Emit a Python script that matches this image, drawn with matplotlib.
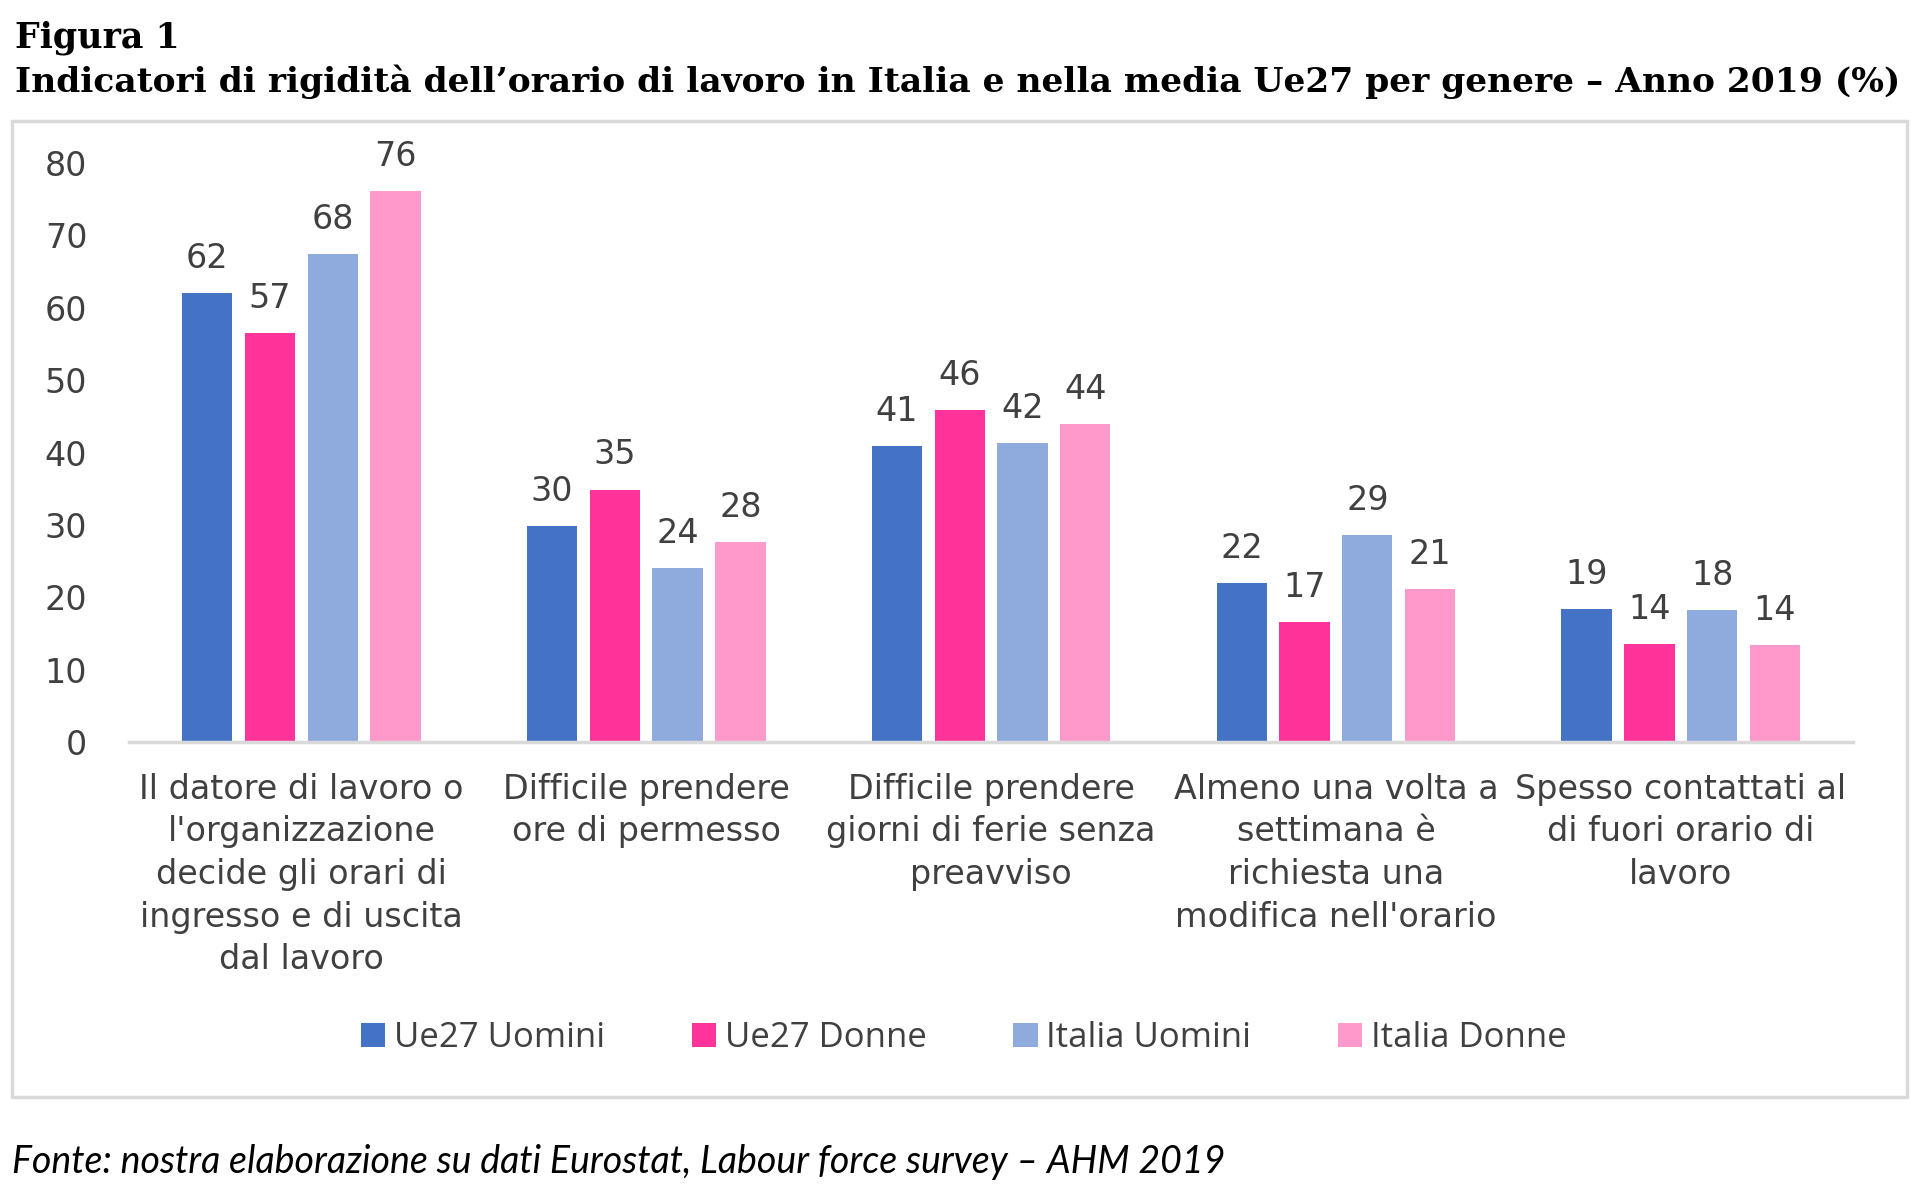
import matplotlib.pyplot as plt
import matplotlib.patches as mpatches
import numpy as np

categorie = [
    "Il datore di lavoro o\nl'organizzazione\ndecide gli orari di\ningresso e di uscita\ndal lavoro",
    "Difficile prendere\nore di permesso",
    "Difficile prendere\ngiorni di ferie senza\npreavviso",
    "Almeno una volta a\nsettimana è\nrichiesta una\nmodifica nell'orario",
    "Spesso contattati al\ndi fuori orario di\nlavoro",
]
serie = ["Ue27 Uomini", "Ue27 Donne", "Italia Uomini", "Italia Donne"]
colori = ["#4472C4", "#FF3399", "#8FAADC", "#FF99CC"]

ue27_uomini = [62.1, 29.9, 40.9, 22.0, 18.4]
ue27_donne = [56.5, 34.9, 45.9, 16.6, 13.5]
italia_uomini = [67.5, 24.0, 41.3, 28.6, 18.3]
italia_donne = [76.1, 27.6, 44.0, 21.2, 13.4]
valori = [ue27_uomini, ue27_donne, italia_uomini, italia_donne]

etichette = [
    [62, 30, 41, 22, 19],
    [57, 35, 46, 17, 14],
    [68, 24, 42, 29, 18],
    [76, 28, 44, 21, 14],
]

testo = "#404040"
plt.rcParams['font.family'] = ['DejaVu Sans']

fig = plt.figure(figsize=(19.2, 11.95), dpi=100)
fig.patch.set_facecolor("white")

# cornice del grafico
fig.patches.append(mpatches.Rectangle((0.00625, 0.082), 0.987, 0.8167, transform=fig.transFigure,
                                      fill=False, edgecolor="#d9d9d9", linewidth=2.5))

ax = fig.add_axes([0.0672, 0.379, 0.898, 0.4845])
x = np.arange(len(categorie))
passo = 0.182
larg = 0.146
for i, (nome, col, v) in enumerate(zip(serie, colori, valori)):
    b = ax.bar(x + (i - 1.5) * passo, v, width=larg, color=col, label=nome)
    ax.bar_label(b, labels=[str(e) for e in etichette[i]], padding=13, fontsize=24, color=testo)

ax.set_xlim(-0.5, 4.5)
ax.set_ylim(0, 80)
ax.set_yticks(range(0, 81, 10))
ax.set_xticks(x)
ax.set_xticklabels(categorie, fontsize=24, color=testo, linespacing=1.37)
ax.tick_params(axis='y', length=0, pad=30, labelsize=24, labelcolor=testo)
ax.tick_params(axis='x', length=0, pad=22)
for s in ["top", "right", "left"]:
    ax.spines[s].set_visible(False)
ax.spines["bottom"].set_color("#d9d9d9")
ax.spines["bottom"].set_linewidth(2.5)

leg = fig.legend(loc="center", bbox_to_anchor=(0.502, 0.131), ncol=4, frameon=False,
                 labelcolor=testo, handlelength=0.7, handleheight=0.7,
                 handletextpad=0.25, columnspacing=2.5, prop={'family': 'Open Sans', 'size': 25})

fig.text(0.008, 0.968, "Figura 1", fontsize=25, fontweight="bold", family="DejaVu Serif", va="center")
fig.text(0.008, 0.932, "Indicatori di rigidità dell’orario di lavoro in Italia e nella media Ue27 per genere – Anno 2019 (%)",
         fontsize=24.8, fontweight="bold", family="DejaVu Serif", va="center")
fig.text(0.006, 0.028, "Fonte: nostra elaborazione su dati Eurostat, Labour force survey – AHM 2019",
         fontsize=27, style="italic", family="Lato", va="center")

fig.savefig("out.png", dpi=100)
